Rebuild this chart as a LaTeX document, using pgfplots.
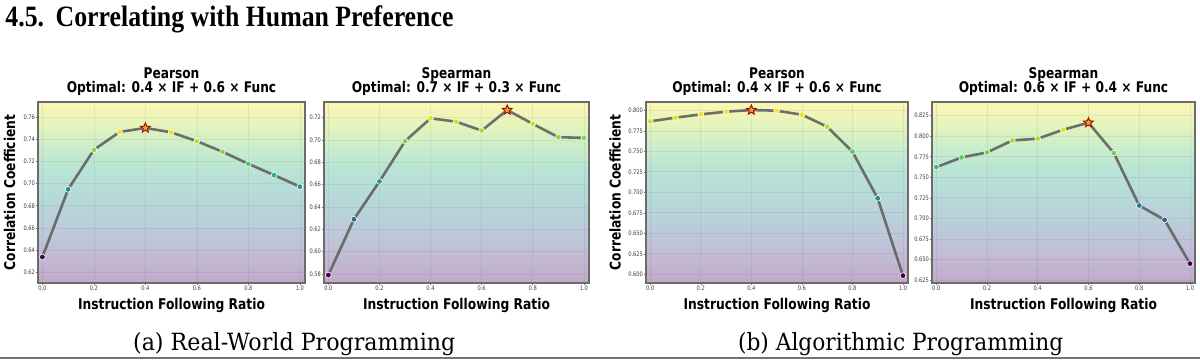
\documentclass[border=0pt]{standalone}
\usepackage{fontspec}
\usepackage{graphicx}
\usepackage{pgfplots}
\usepackage{pgfplotstable}
\pgfplotsset{compat=1.18}
\newfontfamily\cf{DejaVu Sans}[FakeStretch=0.83]
\newfontfamily\capfont{DejaVu Serif}
\newfontfamily\headfont{Liberation Serif}

\definecolor{v0}{RGB}{193,171,199}
\definecolor{v1}{RGB}{195,184,211}
\definecolor{v2}{RGB}{190,198,217}
\definecolor{v3}{RGB}{185,209,218}
\definecolor{v4}{RGB}{182,219,217}
\definecolor{v5}{RGB}{184,228,213}
\definecolor{v6}{RGB}{202,237,203}
\definecolor{v7}{RGB}{228,244,187}
\definecolor{v8}{RGB}{252,246,180}
\definecolor{staror}{RGB}{247,160,40}
\definecolor{stared}{RGB}{150,20,10}

\pgfdeclareverticalshading{viridisbg}{100bp}{color(0bp)=(v0); color(25bp)=(v0); color(31.25bp)=(v1); color(37.5bp)=(v2); color(43.75bp)=(v3); color(50bp)=(v4); color(56.25bp)=(v5); color(62.5bp)=(v6); color(68.75bp)=(v7); color(75bp)=(v8); color(100bp)=(v8)}

\pgfdeclareplotmark{fstar}{%
  \pgfpathmoveto{\pgfqpointpolar{90}{\pgfplotmarksize}}%
  \pgfpathlineto{\pgfqpointpolar{126}{0.45\pgfplotmarksize}}%
  \pgfpathlineto{\pgfqpointpolar{162}{\pgfplotmarksize}}%
  \pgfpathlineto{\pgfqpointpolar{198}{0.45\pgfplotmarksize}}%
  \pgfpathlineto{\pgfqpointpolar{234}{\pgfplotmarksize}}%
  \pgfpathlineto{\pgfqpointpolar{270}{0.45\pgfplotmarksize}}%
  \pgfpathlineto{\pgfqpointpolar{306}{\pgfplotmarksize}}%
  \pgfpathlineto{\pgfqpointpolar{342}{0.45\pgfplotmarksize}}%
  \pgfpathlineto{\pgfqpointpolar{18}{\pgfplotmarksize}}%
  \pgfpathlineto{\pgfqpointpolar{54}{0.45\pgfplotmarksize}}%
  \pgfpathclose
  \pgfusepathqfillstroke}

% Real-World Programming
\pgfplotstableread{
x y
0.0 0.6338
0.1 0.6948
0.2 0.7304
0.3 0.7465
0.4 0.7501
0.5 0.7462
0.6 0.7382
0.7 0.7286
0.8 0.7178
0.9 0.7076
1.0 0.6972
}\dataA
\pgfplotstableread{
x y
0.0 0.5791
0.1 0.6290
0.2 0.6629
0.3 0.6989
0.4 0.7194
0.5 0.7164
0.6 0.7084
0.7 0.7268
0.8 0.7144
0.9 0.7025
1.0 0.7019
}\dataB
% Algorithmic Programming
\pgfplotstableread{
x y
0.0 0.7866
0.1 0.7911
0.2 0.7951
0.3 0.7984
0.4 0.8004
0.5 0.7996
0.6 0.7947
0.7 0.7801
0.8 0.7496
0.9 0.6927
1.0 0.5984
}\dataC
\pgfplotstableread{
x y
0.0 0.7624
0.1 0.7742
0.2 0.7803
0.3 0.7949
0.4 0.7970
0.5 0.8079
0.6 0.8165
0.7 0.7795
0.8 0.7157
0.9 0.6982
1.0 0.6449
}\dataD

\pgfplotsset{
  panel/.style={
    scale only axis,
    clip mode=individual,
    height=90.5pt,
    xmin=-0.017, xmax=1.02,
    xtick={0,0.2,0.4,0.6,0.8,1},
    xticklabels={0.0,0.2,0.4,0.6,0.8,1.0},
    tick label style={font=\cf\fontsize{3.1}{3.6}\selectfont, text=black!75},
    xticklabel style={inner sep=0.4pt},
    yticklabel style={inner sep=0.4pt},
    tick align=outside, tick pos=left,
    major tick length=0.9pt,
    every tick/.style={black!55, line width=0.3pt},
    axis line style={black!58, line width=0.75pt},
    axis background/.style={shading=viridisbg},
    grid=major, grid style={black, opacity=0.06, line width=0.35pt},
    colormap name=viridis,
    xlabel={Instruction Following Ratio},
    xlabel style={font=\cf\bfseries\fontsize{7.4}{8}\selectfont, at={(axis description cs:0.5,0)}, anchor=base, yshift=-13.15pt},
    ylabel style={font=\cf\bfseries\fontsize{7.4}{8}\selectfont, anchor=center},
  },
  curve/.style={black!62, line width=1.3pt, opacity=0.9, mark=none},
  pts/.style={scatter, only marks, mark=*, mark size=1.45pt, point meta=y,
    scatter/use mapped color={draw=white, fill=mapped color}, line width=0.3pt},
  best/.style={only marks, mark=fstar, mark size=2.5pt, line width=0.5pt,
    mark options={fill=staror, draw=stared}},
}
\newcommand{\ptitle}[2]{%
  \node[anchor=base, font=\cf\bfseries\fontsize{7.35}{8}\selectfont, yshift=11.9pt] at (axis description cs:0.5,1) {#1};
  \node[anchor=base, font=\cf\bfseries\fontsize{7.35}{8}\selectfont, yshift=4.75pt] at (axis description cs:0.5,1) {#2};
}

\begin{document}
\begin{tikzpicture}
\useasboundingbox (0,0) rectangle (600pt,179.5pt);

% header
\node[anchor=south west, inner sep=0] at (2.5pt,163pt)
  {\resizebox*{224pt}{13.65pt}{\headfont\bfseries 4.5.\hspace{0.45em}Correlating with Human Preference}};

% Panel 1
\begin{axis}[panel, at={(19pt,38pt)}, anchor=south west, width=133.5pt,
  ymin=0.6104, ymax=0.7735,
  ytick={0.62,0.64,0.66,0.68,0.70,0.72,0.74,0.76},
  yticklabels={0.62,0.64,0.66,0.68,0.70,0.72,0.74,0.76},
  ylabel={Correlation Coefficient},
  ylabel style={at={(axis description cs:-0.106,0.5)}}]
\addplot[curve] table {\dataA};
\addplot[pts] table {\dataA};
\addplot[best] coordinates {(0.4,0.7501)};
\ptitle{Pearson}{Optimal: 0.4 × IF + 0.6 × Func}
\end{axis}

% Panel 2
\begin{axis}[panel, at={(162pt,38pt)}, anchor=south west, width=132.5pt,
  ymin=0.572, ymax=0.734,
  ytick={0.58,0.60,0.62,0.64,0.66,0.68,0.70,0.72},
  yticklabels={0.58,0.60,0.62,0.64,0.66,0.68,0.70,0.72}]
\addplot[curve] table {\dataB};
\addplot[pts] table {\dataB};
\addplot[best] coordinates {(0.7,0.7268)};
\ptitle{Spearman}{Optimal: 0.7 × IF + 0.3 × Func}
\end{axis}

% Panel 3
\begin{axis}[panel, at={(323pt,38pt)}, anchor=south west, width=131pt,
  ymin=0.5894, ymax=0.8102,
  ytick={0.600,0.625,0.650,0.675,0.700,0.725,0.750,0.775,0.800},
  yticklabels={0.600,0.625,0.650,0.675,0.700,0.725,0.750,0.775,0.800},
  ylabel={Correlation Coefficient},
  ylabel style={at={(axis description cs:-0.118,0.5)}}]
\addplot[curve] table {\dataC};
\addplot[pts] table {\dataC};
\addplot[best] coordinates {(0.4,0.8004)};
\ptitle{Pearson}{Optimal: 0.4 × IF + 0.6 × Func}
\end{axis}

% Panel 4
\begin{axis}[panel, at={(466pt,38pt)}, anchor=south west, width=131.5pt,
  ymin=0.6213, ymax=0.8417,
  ytick={0.625,0.650,0.675,0.700,0.725,0.750,0.775,0.800,0.825},
  yticklabels={0.625,0.650,0.675,0.700,0.725,0.750,0.775,0.800,0.825}]
\addplot[curve] table {\dataD};
\addplot[pts] table {\dataD};
\addplot[best] coordinates {(0.6,0.8165)};
\ptitle{Spearman}{Optimal: 0.6 × IF + 0.4 × Func}
\end{axis}

% captions
\node[anchor=south west, inner sep=0] at (66.35pt,1.35pt)
  {\resizebox*{161.15pt}{11.65pt}{\capfont (a) Real-World Programming}};
\node[anchor=south west, inner sep=0] at (368.85pt,1.35pt)
  {\resizebox*{162.65pt}{11.65pt}{\capfont (b) Algorithmic Programming}};

\draw[black!55, line width=0.9pt] (0,0.45pt) -- (600pt,0.45pt);
\end{tikzpicture}
\end{document}
